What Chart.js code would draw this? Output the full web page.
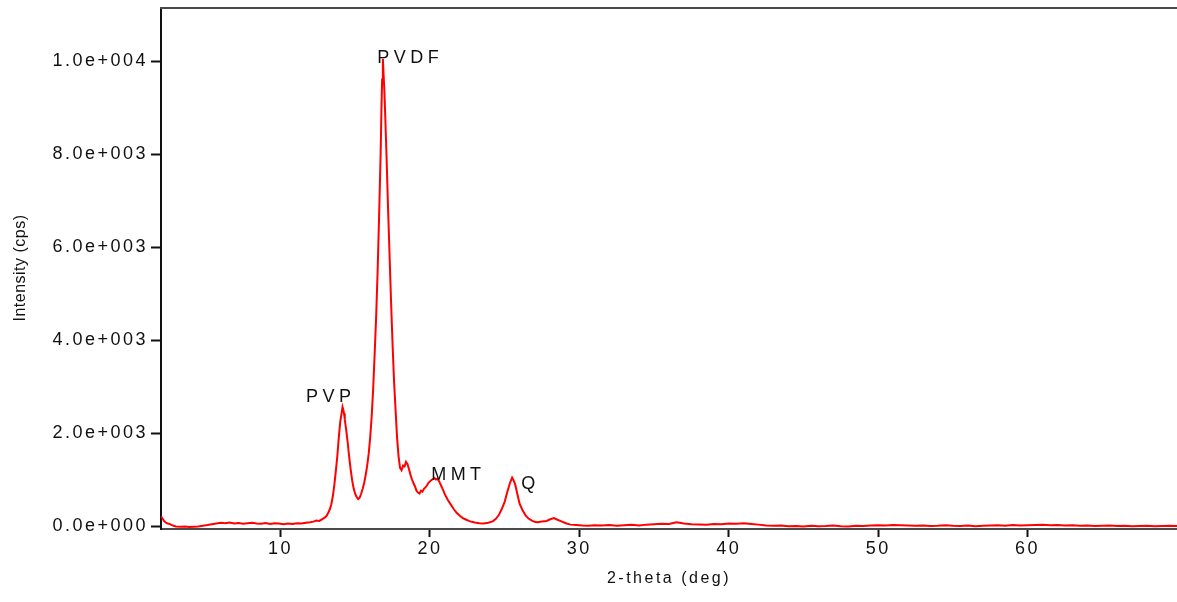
<!DOCTYPE html>
<html>
<head>
<meta charset="utf-8">
<title>XRD pattern</title>
<script src="https://cdn.jsdelivr.net/npm/chart.js@4.4.1/dist/chart.umd.min.js"></script>
<style>
  html, body { margin: 0; padding: 0; background: #fff; }
  #wrap { width: 1177px; height: 602px; }
</style>
</head>
<body>
<div id="wrap"><canvas id="xrd" width="1177" height="602"></canvas></div>
<script>
// =====================
// Diffraction data (2-theta in deg, intensity in cps)
// =====================
const twoTheta = [
  2.0, 2.1, 2.2, 2.3, 2.4, 2.6, 2.8, 3.0, 3.3, 3.6, 3.9, 4.2, 4.5, 4.8, 5.1, 5.4, 5.7,
  6.0, 6.3, 6.6, 6.9, 7.2, 7.5, 7.8, 8.1, 8.4, 8.7, 9.0, 9.3, 9.6, 9.9, 10.2, 10.5,
  10.8, 11.1, 11.4, 11.7, 12.0, 12.2, 12.4, 12.6, 12.8, 13.0, 13.1, 13.2, 13.3, 13.4,
  13.5, 13.6, 13.7, 13.8, 13.9, 14.0, 14.1, 14.15, 14.2, 14.25, 14.3, 14.4, 14.5, 14.6,
  14.7, 14.8, 14.9, 15.0, 15.1, 15.2, 15.3, 15.4, 15.5, 15.6, 15.7, 15.8, 15.9, 16.0,
  16.1, 16.2, 16.3, 16.4, 16.5, 16.6, 16.7, 16.75, 16.8, 16.85, 16.9, 16.95, 17.0,
  17.1, 17.2, 17.3, 17.4, 17.5, 17.6, 17.7, 17.8, 17.9, 18.0, 18.1, 18.2, 18.3, 18.4,
  18.5, 18.6, 18.7, 18.8, 18.9, 19.0, 19.1, 19.2, 19.3, 19.4, 19.5, 19.6, 19.7, 19.8,
  19.9, 20.0, 20.1, 20.2, 20.3, 20.4, 20.5, 20.6, 20.7, 20.8, 20.9, 21.0, 21.2, 21.4,
  21.6, 21.8, 22.0, 22.2, 22.4, 22.6, 22.8, 23.0, 23.3, 23.6, 23.9, 24.2, 24.4, 24.6,
  24.8, 25.0, 25.2, 25.35, 25.5, 25.6, 25.7, 25.8, 25.9, 26.0, 26.2, 26.4, 26.6, 26.8,
  27.0, 27.2, 27.5, 27.8, 28.1, 28.3, 28.5, 28.8, 29.1, 29.4, 29.8, 30.2, 30.6, 31.0,
  31.5, 32.0, 32.5, 33.0, 33.5, 34.0, 34.5, 35.0, 35.5, 36.0, 36.5, 37.0, 37.5, 38.0,
  38.5, 39.0, 39.5, 40.0, 40.5, 41.0, 41.5, 42.0, 42.5, 43.0, 43.5, 44.0, 44.5, 45.0,
  45.5, 46.0, 46.5, 47.0, 47.5, 48.0, 48.5, 49.0, 49.5, 50.0, 50.5, 51.0, 51.5, 52.0,
  52.5, 53.0, 53.5, 54.0, 54.5, 55.0, 55.5, 56.0, 56.5, 57.0, 57.5, 58.0, 58.5, 59.0,
  59.5, 60.0, 60.5, 61.0, 61.5, 62.0, 62.5, 63.0, 63.5, 64.0, 64.5, 65.0, 65.5, 66.0,
  66.5, 67.0, 67.5, 68.0, 68.5, 69.0, 69.5, 70.0
];
const intensity = [
  210, 160, 110, 80, 60, 40, 10, -10, -15, -10, -20, -15, -10, 5, 20, 40, 55,
  70, 60, 75, 55, 65, 50, 60, 70, 55, 50, 65, 45, 60, 55, 40, 55,
  45, 60, 55, 70, 80, 95, 120, 110, 150, 190, 230, 290, 360, 470,
  640, 880, 1180, 1500, 1900, 2250, 2450, 2560, 2500, 2420, 2300, 2050, 1780, 1470,
  1200, 970, 800, 690, 620, 580, 610, 700, 800, 930, 1100, 1300, 1550, 1900,
  2350, 2950, 3700, 4500, 5500, 6700, 8000, 8900, 9600, 10050, 9700, 9350, 8900,
  7900, 6800, 5800, 4800, 3900, 3100, 2500, 1900, 1500, 1250, 1200, 1300, 1280, 1380,
  1330, 1220, 1100, 1000, 920, 850, 760, 720, 700, 760, 740, 800, 830, 870,
  930, 960, 990, 1010, 1030, 1000, 1020, 970, 900, 830, 760, 680, 560, 460,
  360, 280, 220, 170, 140, 110, 90, 75, 60, 55, 70, 100, 150, 230,
  360, 520, 760, 920, 1040, 980, 900, 760, 620, 480, 340, 230, 160, 120,
  90, 80, 95, 110, 150, 170, 140, 100, 60, 30, 20, 10, 5, 15,
  10, 20, 5, 15, 25, 10, 30, 40, 50, 45, 80, 55, 40, 35,
  30, 45, 40, 55, 50, 60, 45, 30, 10, 5, 10, -5, 0, -10,
  5, -5, 0, 10, -5, -10, 5, 0, 10, 15, 10, 20, 15, 10,
  5, 10, 0, 5, 15, 5, 0, 10, -5, 5, 10, 15, 5, 20,
  10, 15, 20, 25, 15, 20, 10, 15, 5, 10, 0, 5, 10, 0,
  5, -5, 0, 5, -5, 0, 5, 0
];

const xTicks = [10, 20, 30, 40, 50, 60];
const yTicks = [0, 2000, 4000, 6000, 8000, 10000];

// peak names and where their captions sit (deg, cps)
const peakNames = ["PVP", "PVDF", "MMT", "Q"];
const peakCaptionAt = [
  { x: 11.71, y: 2774 },
  { x: 16.47, y: 10062 },
  { x: 20.08, y: 1097 },
  { x: 26.11, y: 903 }
];

// 10000 -> "1.0e+004"
function sci(v) {
  if (v === 0) return "0.0e+000";
  const exp = Math.floor(Math.log10(Math.abs(v)));
  const mant = (v / Math.pow(10, exp)).toFixed(1);
  return mant + "e" + (exp < 0 ? "-" : "+") + String(Math.abs(exp)).padStart(3, "0");
}

const FONT = "'Liberation Sans', Arial, sans-serif";

// =====================
// Extra drawing: spacing, top frame line, y title, peak captions
// =====================
const decorations = {
  id: "decorations",
  beforeDraw(chart) {
    chart.ctx.letterSpacing = "2.5px";
  },
  afterDraw(chart) {
    const { ctx, chartArea, scales } = chart;
    ctx.save();
    ctx.strokeStyle = "#4a4a4a";
    ctx.lineWidth = 2;
    ctx.beginPath();
    ctx.moveTo(chartArea.left - 1, chartArea.top);
    ctx.lineTo(chartArea.right, chartArea.top);
    ctx.stroke();

    ctx.fillStyle = "#111";
    ctx.letterSpacing = "0.5px";
    ctx.font = "16px " + FONT;
    ctx.textAlign = "center";
    ctx.textBaseline = "middle";
    ctx.translate(21, 268);
    ctx.rotate(-Math.PI / 2);
    ctx.fillText("Intensity (cps)", 0, 0);
    ctx.setTransform(1, 0, 0, 1, 0, 0);

    ctx.letterSpacing = "4.5px";
    ctx.font = "18px " + FONT;
    ctx.textAlign = "left";
    peakNames.forEach((name, i) => {
      const p = peakCaptionAt[i];
      ctx.fillText(name, scales.x.getPixelForValue(p.x), scales.y.getPixelForValue(p.y));
    });
    ctx.restore();
    ctx.letterSpacing = "2.5px";
  }
};

const ctx = document.getElementById("xrd");
new Chart(ctx, {
  type: "line",
  data: {
    datasets: [{
      label: "XRD",
      data: twoTheta.map((t, i) => ({ x: t, y: intensity[i] })),
      borderColor: "#ff0000",
      borderWidth: 2,
      pointRadius: 0,
      tension: 0,
      fill: false
    }]
  },
  options: {
    responsive: false,
    animation: false,
    layout: { padding: { top: 8, right: 0, bottom: 0, left: 0 } },
    plugins: {
      legend: { display: false },
      tooltip: { enabled: false }
    },
    scales: {
      x: {
        type: "linear",
        min: 2,
        max: 70,
        afterBuildTicks: axis => { axis.ticks = xTicks.map(v => ({ value: v })); },
        afterFit: axis => {
          axis.height = 73;
          axis.paddingLeft = 0;
          axis.paddingRight = 0;
        },
        ticks: {
          color: "#111",
          font: { family: FONT, size: 18 },
          padding: 1,
          maxRotation: 0
        },
        grid: {
          drawOnChartArea: false,
          drawTicks: true,
          tickLength: 8,
          tickWidth: 2,
          tickColor: "#111"
        },
        border: { display: true, color: "#4a4a4a", width: 2 },
        title: {
          display: true,
          text: "2-theta (deg)",
          color: "#111",
          font: { family: FONT, size: 16 },
          padding: { top: 0, bottom: 14 }
        }
      },
      y: {
        min: -64,
        max: 11140,
        afterBuildTicks: axis => { axis.ticks = yTicks.map(v => ({ value: v })); },
        afterFit: axis => {
          axis.width = 161;
          axis.paddingTop = 0;
          axis.paddingBottom = 0;
        },
        ticks: {
          color: "#111",
          font: { family: FONT, size: 18 },
          padding: 3,
          callback: v => sci(v)
        },
        grid: {
          drawOnChartArea: false,
          drawTicks: true,
          tickLength: 10,
          tickWidth: 2,
          tickColor: "#111"
        },
        border: { display: true, color: "#111", width: 2 }
      }
    }
  },
  plugins: [decorations]
});
</script>
</body>
</html>
